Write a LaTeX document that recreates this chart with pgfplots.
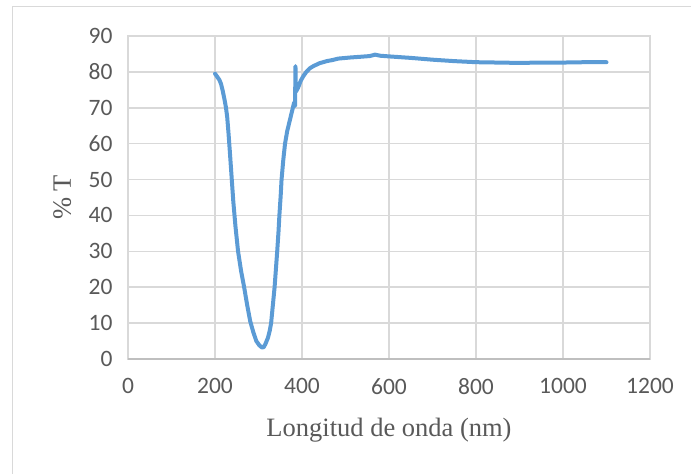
\documentclass[border=0pt]{standalone}
\usepackage{fontspec}
\setmainfont{Liberation Serif}
\newfontfamily\carlito{Carlito}
\usepackage{pgfplots}
\pgfplotsset{compat=1.18}
\definecolor{linecol}{HTML}{5B9BD5}
\definecolor{gridcol}{HTML}{D9D9D9}
\definecolor{axcol}{HTML}{BFBFBF}
\definecolor{txtcol}{HTML}{595959}
\begin{document}
\begin{tikzpicture}[x=1pt,y=1pt]
\useasboundingbox (0,0) rectangle (691,474);
\draw[gridcol,line width=1pt] (12,0) -- (12,467) -- (691,467);
\begin{axis}[
  at={(128pt,115pt)}, anchor=south west,
  scale only axis, width=522pt, height=323pt,
  xmin=0, xmax=1200, ymin=0, ymax=90,
  xtick={0,200,...,1200}, ytick={0,10,...,90},
  major tick length=0pt,
  grid=major,
  major grid style={gridcol,line width=1.6pt},
  axis line style={gridcol,line width=1.6pt},
  /pgf/number format/assume math mode=true,
  /pgf/number format/1000 sep={},
  ticklabel style={font=\fontsize{23.5}{24}\selectfont\carlito, text=txtcol},
  xticklabel style={anchor=north, yshift=-16pt},
  yticklabel style={anchor=east, xshift=-12pt},
  xlabel={Longitud de onda (nm)},
  ylabel={\% T},
  label style={font=\fontsize{26.5}{28}\selectfont, text=txtcol},
  xlabel style={at={(axis description cs:0.5,-0.2384)}, anchor=base},
  ylabel style={at={(axis description cs:-0.1092,0.5)}, anchor=base, rotate=0},
]
\draw[axcol,line width=1.6pt] (axis cs:0,0) -- (axis cs:1200,0);
\addplot[linecol, line width=4pt, line join=round, line cap=round] coordinates {
(200,79.5) (203,79.0) (207,78.3) (210,77.8) (214,76.6) (218,74.6) (222,72.2) (225,70.2)
(228,67.5) (231,63.0) (234,58.0) (238,51.0) (242,44.0) (247,37.0) (253,30.0) (260,24.5)
(267,20.0) (274,15.0) (281,10.5) (288,7.5) (295,5.0) (302,3.8) (308,3.2) (312,3.3)
(316,4.2) (322,6.0) (326,8.0) (329,10.0) (333,15.0) (337,20.0) (340,25.0) (343,30.0)
(346,35.5) (348,40.0) (351,45.5) (353,50.0) (357,55.5) (361,60.0) (366,63.5) (372,66.5)
(378,69.5) (382,71.5) (384,70.5) (385,81.6) (386,74.5) (391,75.6) (397,77.5) (403,78.8)
(410,80.0) (418,81.0) (426,81.6) (440,82.4) (457,83.0) (470,83.3) (483,83.7) (510,84.0)
(533,84.2) (555,84.4) (568,84.8) (580,84.5) (602,84.3) (650,83.9) (700,83.4) (750,83.0)
(800,82.7) (850,82.6) (900,82.5) (950,82.6) (1000,82.6) (1050,82.7) (1100,82.7)
};
\end{axis}
\end{tikzpicture}
\end{document}
